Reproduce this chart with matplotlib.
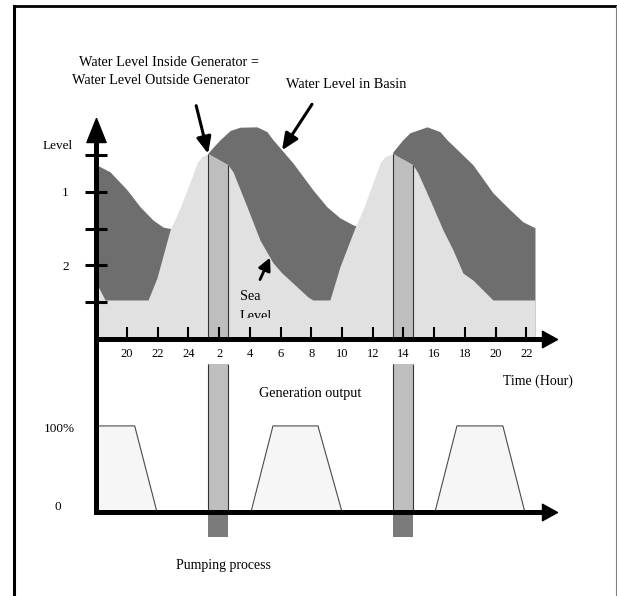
import numpy as np
import matplotlib
matplotlib.use("Agg")
import matplotlib.pyplot as plt
from matplotlib.lines import Line2D
from matplotlib import transforms

# time runs continuously from 18:00, labels wrap at 24
hour_ticks = np.arange(20, 47, 2)
hour_labels = ["20", "22", "24", "2", "4", "6", "8", "10", "12", "14", "16", "18", "20", "22"]

# level axis ticks
level_ticks = [1, 2, 3, 4, 5]
level_labels = ["", "2", "", "1", ""]

# sea level (light) and basin level (dark) curves
sea_t = [18.0, 18.57, 21.37, 21.95, 22.80, 23.45, 24.23, 24.56, 24.88, 25.28, 26.57, 26.90,
         27.81, 28.65, 29.50, 30.09, 30.80, 31.78, 32.10, 33.21, 33.86, 34.84, 35.36, 36.01,
         36.47, 36.79, 37.31, 38.61, 38.94, 39.72, 40.57, 41.22, 41.87, 42.52, 43.82, 46.56]
sea_h = [1.52, 1.06, 1.06, 1.66, 2.96, 3.56, 4.40, 4.78, 4.95, 5.03, 4.73, 4.54,
         3.59, 2.69, 2.07, 1.79, 1.52, 1.14, 1.06, 1.06, 1.96, 3.02, 3.51, 4.24,
         4.78, 4.95, 5.03, 4.73, 4.51, 3.78, 2.96, 2.42, 1.79, 1.60, 1.06, 1.06]

basin_t = [18.0, 18.89, 20.0, 20.85, 21.69, 22.34, 22.93, 24.10, 25.01, 25.28, 25.7, 26.06, 26.71,
           27.36, 28.46, 29.11, 29.50, 30.80, 32.10, 33.01, 33.86, 34.71, 35.30, 36.14, 37.05,
           37.31, 37.7, 37.96, 38.42, 39.53, 40.37, 40.83, 42.52, 43.82, 44.93, 45.78, 46.56]
basin_h = [4.73, 4.54, 4.05, 3.59, 3.23, 3.04, 2.99, 2.91, 4.46, 5.05, 5.25, 5.41, 5.66,
           5.75, 5.76, 5.63, 5.41, 4.78, 4.05, 3.59, 3.29, 3.10, 3.02, 2.93, 4.46,
           5.08, 5.28, 5.41, 5.60, 5.76, 5.63, 5.41, 4.73, 3.97, 3.51, 3.18, 3.02]

# gate open (pumping) intervals
gate_t = [(25.28, 26.57), (37.31, 38.61)]

# generation output (%)
gen_t = [18.0, 20.5, 21.95, 28.07, 29.5, 32.43, 34.0, 40.05, 41.48, 44.47, 45.9]
gen_pct = [100, 100, 0, 0, 100, 100, 0, 0, 100, 100, 0]

W, H = 617, 596
LIGHT = "#e1e1e1"
DARK = "#6e6e6e"
MID = "#bebebe"
BLOB = "#7b7b7b"

plt.rcParams["font.family"] = ["Liberation Serif", "DejaVu Serif"]
plt.rcParams["font.size"] = 10

fig = plt.figure(figsize=(W / 100, H / 100), dpi=100)


def box(x0, ytop, x1, ybot):
    return [x0 / W, 1 - ybot / H, (x1 - x0) / W, (ybot - ytop) / H]


def fpos(x, y):
    return x / W, 1 - y / H


ax = fig.add_axes(box(96.3, 118, 557.1, 339))
ax_low = fig.add_axes(box(96.3, 339, 557.1, 512))

up_head = [(0, 0), (-0.8, -2), (0.8, -2), (0, 0)]
right_head = [(0, 0), (-2, -1.1), (-2, 1.1), (0, 0)]

# ---- upper: water levels
ax.fill_between(basin_t, basin_h, color=DARK, lw=0)
ax.fill_between(sea_t, sea_h, color=LIGHT, lw=0)
for t0, t1 in gate_t:
    bt = np.linspace(t0, t1, 20)
    top = np.interp(bt, sea_t, sea_h)
    ax.fill_between(bt, top, color=MID, lw=0)
    ax.vlines([t0, t1], 0, [top[0], top[-1]], color="#333333", lw=0.8)

ax.set_xlim(18, 48)
ax.set_ylim(0, 6)
ax.patch.set_visible(False)
for s in ["top", "right"]:
    ax.spines[s].set_visible(False)
for s in ["left", "bottom"]:
    ax.spines[s].set_linewidth(3.6)
    ax.spines[s].set_capstyle("projecting")
ax.spines["left"].set_bounds(0, 5.5)
ax.spines["bottom"].set_bounds(18, 47.2)
ax.set_xticks(hour_ticks)
ax.set_xticklabels(hour_labels, fontsize=9)
ax.tick_params(axis="x", direction="in", length=8.6, width=1.5, pad=6.5)
ax.set_yticks(level_ticks)
ax.set_yticklabels(level_labels, fontsize=9.5)
ax.tick_params(axis="y", direction="inout", length=15.8, width=2.2, pad=12)
ax.plot(0, 1, marker=up_head, ms=34.6, color="k", transform=ax.transAxes, clip_on=False)
ax.plot(1, 0, marker=right_head, ms=21.6, color="k", transform=ax.transAxes, clip_on=False)

# ---- lower: generation output
ax_low.fill_between(gen_t, gen_pct, color="#f6f6f6", lw=0)
ax_low.plot(gen_t, gen_pct, color="#4a4a4a", lw=0.8)
for t0, t1 in gate_t:
    ax_low.fill_between([t0, t1], 0, 172, color=MID, lw=0)
    ax_low.fill_between([t0, t1], -29, 0, color=BLOB, lw=0, clip_on=False)
    ax_low.vlines([t0, t1], 0, 172, color="#333333", lw=0.8)
ax_low.set_xlim(18, 48)
ax_low.set_ylim(0, 201)
ax_low.patch.set_visible(False)
for s in ["top", "right"]:
    ax_low.spines[s].set_visible(False)
for s in ["left", "bottom"]:
    ax_low.spines[s].set_linewidth(3.6)
    ax_low.spines[s].set_capstyle("projecting")
ax_low.spines["bottom"].set_bounds(18, 47.2)
ax_low.set_xticks([])
ax_low.set_yticks([])
ax_low.plot(1, 0, marker=right_head, ms=21.6, color="k", transform=ax_low.transAxes, clip_on=False)

left_lbl = transforms.blended_transform_factory(fig.transFigure, ax_low.transData)
ax_low.text(59 / W, 97, "100%", transform=left_lbl, ha="center", va="center", fontsize=9.5)
ax_low.text(58 / W, 6, "0", transform=left_lbl, ha="center", va="center", fontsize=9.5)
left_up = transforms.blended_transform_factory(fig.transFigure, ax.transData)
ax.text(58 / W, 5.24, "Level", transform=left_up, ha="center", va="center", fontsize=9.5)

# ---- annotations
t0 = gate_t[0][0]
ax.annotate("", xy=(t0, np.interp(t0, sea_t, sea_h)), xytext=(-8.6, 34.6),
            textcoords="offset points",
            arrowprops=dict(arrowstyle="-|>,head_length=0.5,head_width=0.22", lw=2.2,
                            color="k", mutation_scale=20, shrinkA=0, shrinkB=0))
ax.annotate("", xy=(30.09, np.interp(30.09, basin_t, basin_h)), xytext=(21.6, 33.1),
            textcoords="offset points",
            arrowprops=dict(arrowstyle="-|>,head_length=0.5,head_width=0.22", lw=2.2,
                            color="k", mutation_scale=20, shrinkA=0, shrinkB=0))
ax.annotate("", xy=(29.31, np.interp(29.31, sea_t, sea_h)), xytext=(-7.2, -15.8),
            textcoords="offset points",
            arrowprops=dict(arrowstyle="-|>,head_length=0.5,head_width=0.25", lw=2.0,
                            color="k", mutation_scale=15, shrinkA=0, shrinkB=0))

fig.text(*fpos(168.5, 62), "Water Level Inside Generator =", ha="center", va="center", fontsize=10.3)
fig.text(*fpos(161, 80), "Water Level Outside Generator", ha="center", va="center", fontsize=10.3)
fig.text(*fpos(346, 85), "Water Level in Basin", ha="center", va="center", fontsize=10.3)
fig.text(*fpos(240, 297), "Sea", ha="left", va="center", fontsize=10.3)
lvl = fig.text(*fpos(240, 317), "Level", ha="left", va="center", fontsize=10.3)
clip = transforms.TransformedBbox(transforms.Bbox([[0, 1 - 318 / H], [1, 1]]), fig.transFigure)
lvl.set_clip_box(clip)
lvl.set_clip_on(True)
fig.text(*fpos(538, 381), "Time (Hour)", ha="center", va="center", fontsize=10)
fig.text(*fpos(310, 393), "Generation output", ha="center", va="center", fontsize=10.2)
fig.text(*fpos(223, 565), "Pumping process", ha="center", va="center", fontsize=10)

# page frame
fig.add_artist(Line2D([14 / W, 14 / W], [0, 1 - 6 / H], color="k", lw=2.2, transform=fig.transFigure))
fig.add_artist(Line2D([14 / W, 616 / W], [1 - 6 / H, 1 - 6 / H], color="k", lw=2.0,
                      transform=fig.transFigure))
fig.add_artist(Line2D([616 / W, 616 / W], [0, 1 - 6 / H], color="#808080", lw=0.8,
                      transform=fig.transFigure))

fig.savefig("out.png", dpi=100)
